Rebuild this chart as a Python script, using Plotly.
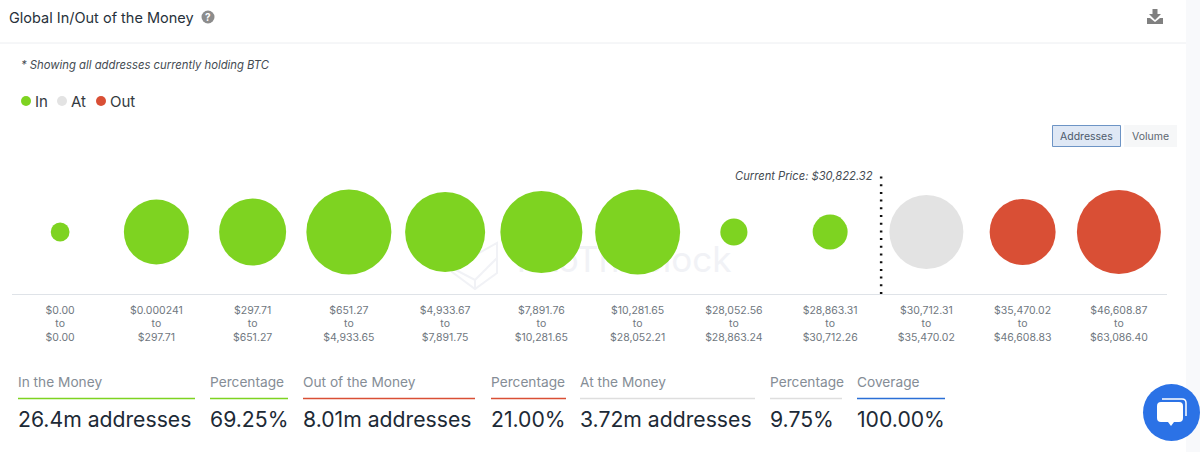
import plotly.graph_objects as go

# price buckets, holders in millions of addresses
bucket_low = ["$0.00", "$0.000241", "$297.71", "$651.27", "$4,933.67", "$7,891.76",
              "$10,281.65", "$28,052.56", "$28,863.31", "$30,712.31", "$35,470.02", "$46,608.87"]
bucket_high = ["$0.00", "$297.71", "$651.27", "$4,933.65", "$7,891.75", "$10,281.65",
               "$28,052.21", "$28,863.24", "$30,712.26", "$35,470.02", "$46,608.83", "$63,086.40"]
addresses = [0.24, 2.87, 3.05, 4.91, 4.35, 4.57, 4.91, 0.50, 0.83, 3.72, 2.96, 4.79]
status = ["In"] * 9 + ["At"] + ["Out"] * 2

GREEN = "#7ed321"
GREY = "#e3e3e3"
RED = "#d94f35"
colors = {"In": GREEN, "At": GREY, "Out": RED}

stat_titles = ["In the Money", "Percentage", "Out of the Money", "Percentage",
               "At the Money", "Percentage", "Coverage"]
stat_values = ["26.4m addresses", "69.25%", "8.01m addresses", "21.00%",
               "3.72m addresses", "9.75%", "100.00%"]
stat_left = [18, 210, 303, 491, 580, 770, 857]
stat_right = [195, 288, 475, 566, 755, 842, 945]
stat_colors = [GREEN, GREEN, RED, RED, "#dedede", "#dedede", "#2b6fd6"]

W, H = 1200, 452
FONT = "Inter"
labels = [f"{a}<br>to<br>{b}" for a, b in zip(bucket_low, bucket_high)]

fig = go.Figure()

# watermark sits behind the bubbles, so it goes in the first subplot
fig.add_trace(go.Scatter(x=[624], y=[263], mode="text", text=["IntoTheBlock"],
                         textfont=dict(family=FONT, size=35, color="#f1f2f6"),
                         hoverinfo="skip", showlegend=False, xaxis="x", yaxis="y"))

fig.add_trace(go.Scatter(
    x=labels, y=[0] * len(labels), mode="markers",
    marker=dict(size=addresses, sizemode="area", sizeref=2 * 3.72 / 74 ** 2,
                color=[colors[s] for s in status], line=dict(width=0), opacity=1),
    cliponaxis=False, showlegend=False, xaxis="x2", yaxis="y2",
))

shapes = [
    dict(type="rect", x0=1186, x1=1200, y0=0, y1=452, fillcolor="#f8f9fb", line_width=0, layer="below"),
    dict(type="line", x0=0, x1=1186, y0=43, y1=43, line=dict(color="#eceef1", width=1), layer="below"),
    # watermark cube
    dict(type="path", path="M452,268 L497,243 L497,273 L475,289 L452,272 Z M452,268 L475,280 L497,258 M475,280 L475,289",
         line=dict(color="#f1f2f6", width=2), layer="below"),
    # help icon
    dict(type="circle", x0=201.5, x1=214.5, y0=10.5, y1=23.5, fillcolor="#8c8c8c", line_width=0),
    # download icon
    dict(type="path", path="M1152.5,9 L1157.5,9 L1157.5,14 L1161,14 L1155,20 L1149,14 L1152.5,14 Z",
         fillcolor="#808080", line_width=0),
    dict(type="path", path="M1147,18 L1150,18 L1155,22 L1160,18 L1163,18 L1163,24 L1147,24 Z",
         fillcolor="#808080", line_width=0),
    # toggle buttons
    dict(type="rect", x0=1052.5, x1=1120.5, y0=125.5, y1=146.5, fillcolor="#dfe8f5",
         line=dict(color="#6d94c5", width=1)),
    dict(type="rect", x0=1124, x1=1177, y0=125, y1=147, fillcolor="#f6f7f8", line_width=0),
    # current price divider
    dict(type="line", xref="x2", yref="y2 domain", x0=8.53, x1=8.53, y0=0, y1=0.99,
         line=dict(color="#111111", width=2.5, dash="2px,5.7px")),
    # chat button
    dict(type="circle", x0=1143, x1=1200, y0=384, y1=441, fillcolor="#2b72e6", line_width=0),
    dict(type="path", path="M1162,399 L1182,399 Q1186,399 1186,403 L1186,416", line=dict(color="white", width=1.5)),
    dict(type="path", path="M1161,402 L1179,402 Q1183,402 1183,406 L1183,418 Q1183,422 1179,422 "
                           "L1174,422 L1171,426 L1168,422 L1161,422 Q1157,422 1157,418 L1157,406 Q1157,402 1161,402 Z",
         fillcolor="white", line_width=0),
]
for s in shapes:
    s.setdefault("xref", "x")
    s.setdefault("yref", "y")


def label(x, y, text, size, color, anchor="left", **kw):
    # annotations keep a small pad around their text
    pad = {"left": -2, "right": 2, "center": 0}[anchor]
    return dict(x=x + pad, y=y, text=text, xref="x", yref="y", showarrow=False, xanchor=anchor, yanchor="middle",
                font=dict(family=FONT, size=size, color=color), **kw)


annotations = [
    label(9, 17, "Global In/Out of the Money", 14.5, "#27313b"),
    label(208, 17, "<b>?</b>", 10, "white", anchor="center"),
    label(21, 65, "<i>* Showing all addresses currently holding BTC</i>", 11.3, "#444b52"),
    label(873, 176, "<i>Current Price: $30,822.32</i>", 11.2, "#444b52", anchor="right"),
    label(1086.5, 136, "Addresses", 10.5, "#4d5a6b", anchor="center"),
    label(1150.5, 136, "Volume", 10.5, "#5c6670", anchor="center"),
]

# legend
for name, cx, tx in zip(["In", "At", "Out"], [26, 62, 101], [35, 71, 110]):
    shapes.append(dict(type="circle", xref="x", yref="y", x0=cx - 5, x1=cx + 5, y0=96, y1=106,
                       fillcolor=colors[name], line_width=0))
    annotations.append(label(tx, 101, name, 15, "#333a41"))

# stat blocks under the chart
for title, value, x0, x1, c in zip(stat_titles, stat_values, stat_left, stat_right, stat_colors):
    annotations.append(label(x0, 382, title, 13.7, "#858d96"))
    annotations.append(label(x0, 419, value, 21.2, "#1d2a36"))
    shapes.append(dict(type="line", xref="x", yref="y", x0=x0, x1=x1, y0=398.5, y1=398.5,
                       line=dict(color=c, width=1.5)))

fig.update_layout(
    width=W, height=H, margin=dict(l=0, r=0, t=0, b=0),
    paper_bgcolor="white", plot_bgcolor="rgba(0,0,0,0)", showlegend=False,
    shapes=shapes, annotations=annotations,
    xaxis=dict(domain=[0, 1], range=[0, W], visible=False, fixedrange=True),
    yaxis=dict(domain=[0, 1], range=[H, 0], visible=False, fixedrange=True),
    xaxis2=dict(domain=[12 / W, 1167 / W], anchor="y2", type="category", categoryorder="array",
                categoryarray=labels, range=[-0.5, 11.5], showgrid=False, zeroline=False,
                showline=True, linecolor="#dfe3e8", linewidth=1, ticks="outside", ticklen=6,
                tickcolor="rgba(0,0,0,0)", tickangle=0, automargin=False,
                tickfont=dict(family=FONT, size=10.5, color="#6f7780")),
    yaxis2=dict(domain=[(H - 294) / H, (H - 170) / H], anchor="x2", range=[-1, 1], visible=False),
)

fig.write_html("out.html", config=dict(displayModeBar=False),
               post_script="document.body.style.margin='0';")
